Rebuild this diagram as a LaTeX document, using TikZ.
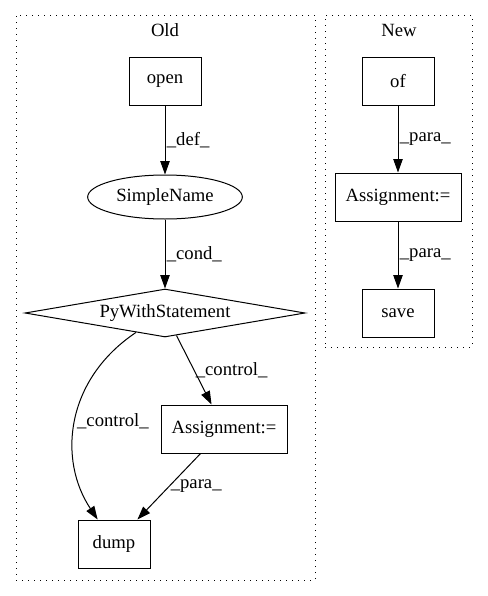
\documentclass[tikz,border=0pt]{standalone}
\usepackage{fontspec}
\setmainfont{Liberation Serif}
\usepackage{tikz}
\usetikzlibrary{arrows.meta}
\usetikzlibrary{shapes.geometric}
\tikzset{>={Triangle[length=10pt,width=7pt]}}
\tikzstyle{boxnode}=[black,draw=black,line width=0.75pt,shape=rectangle,fill=white,minimum width=54pt,minimum height=36pt,inner sep=0pt,font=\fontsize{14}{16}\selectfont]
\tikzstyle{ellnode}=[black,draw=black,line width=0.75pt,shape=ellipse,fill=white,minimum width=116pt,minimum height=33pt,inner sep=0pt,font=\fontsize{14}{16}\selectfont]
\tikzstyle{dianode}=[black,draw=black,line width=0.75pt,shape=diamond,aspect=5.8,fill=white,minimum width=210pt,minimum height=36pt,inner sep=0pt,font=\fontsize{14}{16}\selectfont]
\tikzstyle{clusterbox}=[draw=black,line width=0.75pt,dash pattern=on 0.75pt off 3.75pt,shape=rectangle,inner sep=0pt]
\tikzstyle{clabel}=[font=\fontsize{14}{16}\selectfont,inner sep=0pt]
\tikzstyle{elabel}=[font=\fontsize{14}{16}\selectfont,inner sep=1pt,right]
\tikzstyle{taro}=[->,line width=0.75pt,color=black]

\begin{document}
\begin{tikzpicture}[x=0.75pt,y=-0.75pt]
	\useasboundingbox (0,0) rectangle (488,596);

	% Old
	\begin{scope}
	\node[clusterbox, minimum width=224.25pt, minimum height=423.75pt] (oldbox) at (165.5, 297.5) {};
	\node[clabel] (oldlabel) at (165, 30) {Old};
	\node[boxnode] (open) at (165, 81) {open};
	\node[ellnode] (sname) at (165, 197) {SimpleName};
	\node[dianode] (pws) at (165, 313) {PyWithStatement};
	\node[boxnode, minimum width=94.5pt] (assignold) at (224, 429) {Assignment:=};
	\node[boxnode] (dump) at (114, 544) {dump};
	\draw[taro] (open) -- node[elabel] {\_def\_} (sname);
	\draw[taro] (sname) -- node[elabel] {\_cond\_} (pws);
	\draw[taro] (pws) -- node[elabel] {\_control\_} (assignold);
	\draw[taro] (pws) .. controls (65, 380) and (58, 460) .. node[elabel] {\_control\_} (dump);
	\draw[taro] (assignold) -- node[elabel] {\_para\_} (dump);
	\end{scope}

	% New
	\begin{scope}
	\node[clusterbox, minimum width=110.25pt, minimum height=249pt] (newbox) at (398.5, 181) {};
	\node[clabel] (newlabel) at (399, 30) {New};
	\node[boxnode] (of) at (398, 81) {of};
	\node[boxnode, minimum width=94.5pt] (assignnew) at (398, 197) {Assignment:=};
	\node[boxnode] (save) at (398, 313) {save};
	\draw[taro] (of) -- node[elabel] {\_para\_} (assignnew);
	\draw[taro] (assignnew) -- node[elabel] {\_para\_} (save);
	\end{scope}

\end{tikzpicture}
\end{document}
